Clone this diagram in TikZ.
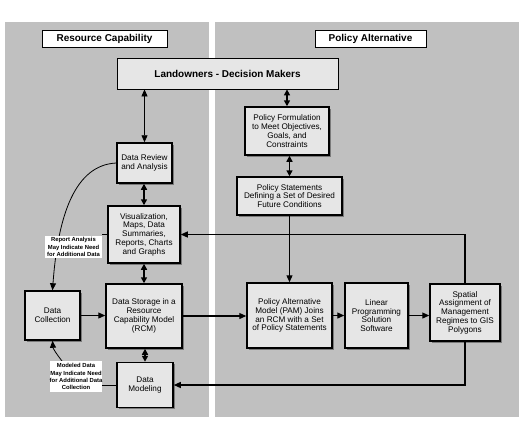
\documentclass[tikz,border=0pt]{standalone}
\usepackage{fontspec}
\setmainfont{Liberation Sans}
\usetikzlibrary{arrows.meta,shadows}
\definecolor{panel}{HTML}{C0C0C0}
\definecolor{boxfill}{HTML}{E6E6E6}
\definecolor{shade}{HTML}{7A7A7A}
\begin{document}
\begin{tikzpicture}[x=1bp,y=-1bp,
  box/.style={draw, line width=1.5bp, fill=boxfill, align=center, inner sep=0pt,
    font=\fontsize{8.2}{8.8}\selectfont,
    general shadow={fill=shade, shadow xshift=1.5bp, shadow yshift=-1.5bp}},
  topbox/.style={draw, line width=0.8bp, fill=boxfill, align=center, inner sep=0pt,
    font=\bfseries\fontsize{10}{12}\selectfont,
    general shadow={fill=shade, shadow xshift=1bp, shadow yshift=-1bp}},
  hdr/.style={draw, line width=0.8bp, fill=white, inner sep=0pt, minimum height=17bp,
    font=\bfseries\fontsize{10}{12}\selectfont},
  note/.style={fill=white, inner sep=0pt, align=center,
    font=\bfseries\fontsize{5.9}{7.2}\selectfont},
  arr/.style={line width=1.2bp, -{Triangle[width=6bp,length=7bp]}},
  dbl/.style={line width=1.6bp, {Triangle[width=6bp,length=6bp]}-{Triangle[width=6bp,length=6bp]}},
  thinarr/.style={line width=0.8bp, {Triangle[width=6bp,length=7bp]}-{Triangle[width=6bp,length=7bp]}},
  conn/.style={line width=1.2bp},
  thinconn/.style={line width=0.8bp}
]
\useasboundingbox (0,0) rectangle (528,427);
\fill[white] (0,0) rectangle (528,427);
\fill[panel] (5,22) rectangle (209,417);
\fill[panel] (215,22) rectangle (519,417);

\node[hdr, minimum width=125bp] (hrc) at (104.5,38.5) {Resource Capability};
\node[hdr, minimum width=111bp] (hpa) at (370.5,38.5) {Policy Alternative};

\node[topbox, minimum width=221bp, minimum height=31bp] (lo) at (227.5,73.5) {Landowners - Decision Makers};

\node[box, minimum width=84bp, minimum height=48bp] (pf) at (287,131)
  {Policy Formulation\\to Meet Objectives,\\Goals, and\\Constraints};
\node[box, minimum width=105bp, minimum height=38bp] (ps) at (289.5,196)
  {Policy Statements\\Defining a Set of Desired\\Future Conditions};
\node[box, minimum width=55bp, minimum height=40bp] (dr) at (144.5,163)
  {Data Review\\and Analysis};
\node[box, minimum width=72bp, minimum height=57bp] (vis) at (144,234.5)
  {Visualization,\\Maps, Data\\Summaries,\\Reports, Charts\\and Graphs};
\node[box, minimum width=55bp, minimum height=49bp] (dc) at (52.5,315.5)
  {Data\\Collection};
\node[box, minimum width=76bp, minimum height=64bp] (ds) at (144,316)
  {Data Storage in a\\Resource\\Capability Model\\(RCM)};
\node[box, minimum width=56bp, minimum height=45bp] (dm) at (145,385)
  {Data\\Modeling};
\node[box, minimum width=85bp, minimum height=65bp] (pam) at (289.5,315.5)
  {Policy Alternative\\Model (PAM) Joins\\an RCM with a Set\\of Policy Statements};
\node[box, minimum width=63bp, minimum height=65bp] (lp) at (376.5,315.5)
  {Linear\\Programming\\Solution\\Software};
\node[box, minimum width=70bp, minimum height=57bp] (sp) at (465,312.5)
  {Spatial\\Assignment of\\Management\\Regimes to GIS\\Polygons};

% connectors
\draw[thinarr] (dr.north |- lo.south) -- (dr.north);
\draw[dbl] (pf.north |- lo.south) -- (pf.north);
\draw[dbl] (ps.north) -- (ps.north |- pf.south);
\draw[dbl] (vis.north) -- (vis.north |- dr.south);
\draw[dbl] (ds.north) -- (ds.north |- vis.south);
\draw[dbl] (dm.north) -- (dm.north |- ds.south);
\draw[arr] (ps.south) -- (pam.north);
\draw[arr] (sp.north) |- (vis.east);
\draw[arr] (sp.south) |- (dm.east);
\draw[arr] (dc.east) -- (dc.east -| ds.west);
\draw[arr] (ds.east) -- (ds.east -| pam.west);
\draw[arr] (pam.east) -- (pam.east -| lp.west);
\draw[arr] (lp.east) -- (lp.east -| sp.west);

\draw[thinconn, -{Triangle[width=6bp,length=7bp]}] (dr.west) .. controls (75,165) and (58,215) .. (dc.north);
\coordinate (c2) at (62,361);
\draw[thinconn, -{Triangle[width=6bp,length=7bp]}] (c2) .. controls (55,352) and (53,348) .. (dc.south);

\node[note, minimum width=57bp, minimum height=22bp] (l1) at (73.5,247)
  {Report Analysis\\May Indicate Need\\for Additional Data};
\node[note, minimum width=52bp, minimum height=31bp] (l2) at (76,376.5)
  {Modeled Data\\May Indicate Need\\for Additional Data\\Collection};
\draw[thinconn] (vis.west -| l1.east) -- (vis.west);
\draw[thinconn] (dm.west -| l2.east) -- (dm.west);
\end{tikzpicture}
\end{document}
